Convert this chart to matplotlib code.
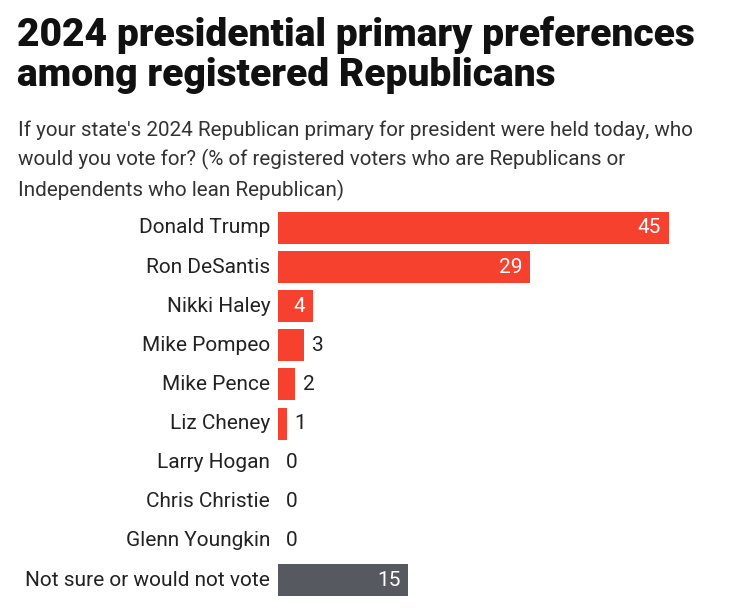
import matplotlib
matplotlib.use("Agg")
import matplotlib.pyplot as plt

plt.rcParams['font.family'] = ['Roboto', 'DejaVu Sans']

# 資料
candidates = ["Donald Trump", "Ron DeSantis", "Nikki Haley", "Mike Pompeo", "Mike Pence",
              "Liz Cheney", "Larry Hogan", "Chris Christie", "Glenn Youngkin",
              "Not sure or would not vote"]
values = [45, 29, 4, 3, 2, 1, 0, 0, 0, 15]
bar_colors = ["#f5412d"] * 9 + ["#56595f"]

W, H = 731, 612
fig = plt.figure(figsize=(W / 100, H / 100), dpi=100)
fig.patch.set_facecolor("white")

# 軸區域 (像素換算)
left_px, right_px = 278, 278 + 50 * 8.69
top_px, bottom_px = 208.4, 599.6
ax = fig.add_axes([left_px / W, (H - bottom_px) / H,
                   (right_px - left_px) / W, (bottom_px - top_px) / H])

y = list(range(len(candidates)))
ax.barh(y, values, height=0.82, color=bar_colors)
ax.set_xlim(0, 50)
ax.set_ylim(len(candidates) - 0.5, -0.5)
ax.axis("off")

# 類別標籤
for i, name in enumerate(candidates):
    ax.text(-0.9, i, name, ha="right", va="center", fontsize=15, color="#222222")

# 數值標籤
for i, v in enumerate(values):
    if v >= 4:
        ax.text(v - 0.9, i, str(v), ha="right", va="center", fontsize=15, color="white")
    else:
        ax.text(v + 0.9, i, str(v), ha="left", va="center", fontsize=15, color="#222222")

# 標題
fig.text(17 / W, 1 - 16 / H, "2024 presidential primary preferences\namong registered Republicans",
         ha="left", va="top", fontsize=28.1, fontweight="black", color="#111111", linespacing=1.1)
fig.text(18 / W, 1 - 120 / H,
         "If your state's 2024 Republican primary for president were held today, who\n"
         "would you vote for? (% of registered voters who are Republicans or\n"
         "Independents who lean Republican)",
         ha="left", va="top", fontsize=14.9, color="#333333", linespacing=1.6)

fig.savefig("out.png", dpi=100)
